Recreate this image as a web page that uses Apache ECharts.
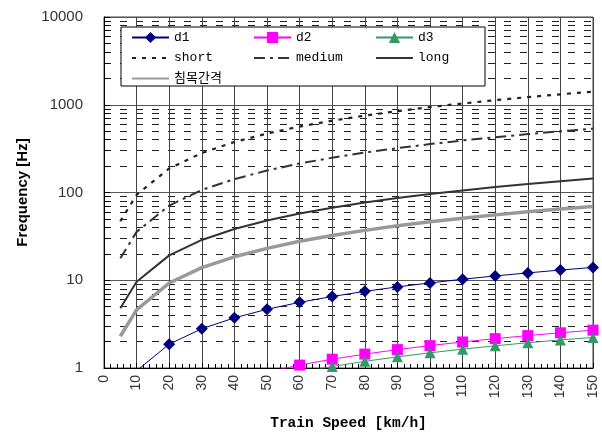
<!DOCTYPE html>
<html><head><meta charset="utf-8">
<script src="https://cdn.jsdelivr.net/npm/echarts@6/dist/echarts.min.js"></script>
<style>html,body{margin:0;padding:0;background:#fff}#c{width:602px;height:437px}</style>
</head><body><div id="c"></div>
<script>
// ---- data ----
const xTicks = [0,10,20,30,40,50,60,70,80,90,100,110,120,130,140,150];
const yTicks = [1,10,100,1000,10000];
const speedD1 = [10,20,30,40,50,60,70,80,90,100,110,120,130,140,150];
const d1 = [0.93,1.87,2.80,3.73,4.67,5.60,6.53,7.47,8.40,9.33,10.27,11.2,12.13,13.07,14.0];
const speedD2 = [50,60,70,80,90,100,110,120,130,140,150];
const d2 = [0.90,1.08,1.26,1.44,1.62,1.80,1.98,2.16,2.34,2.52,2.70];
const speedD3 = [60,70,80,90,100,110,120,130,140,150];
const d3 = [0.89,1.04,1.19,1.34,1.49,1.64,1.79,1.94,2.09,2.23];
const speedCurve = [5,10,20,30,40,50,60,70,80,90,100,110,120,130,140,150];
const shortW = [47,94,188,282,376,470,564,658,752,846,940,1034,1128,1222,1316,1410];
const mediumW = [17.8,35.6,71,107,142,178,214,249,285,320,356,392,427,463,498,534];
const longW = [4.8,9.6,19.2,28.8,38.4,48,57.6,67.2,76.8,86.4,96,105.6,115.2,124.8,134.4,144];
const sleeper = [2.3,4.6,9.3,13.9,18.5,23.1,27.8,32.4,37,41.7,46.3,50.9,55.6,60.2,64.8,69.4];

const zip = (xs, ys) => xs.map((x, i) => [x, ys[i]]);
const MONO = '"Liberation Mono","DejaVu Sans Mono","Noto Sans CJK KR",monospace';
const lineOnly = name => ({name:name, itemStyle:{opacity:0}});

const chart = echarts.init(document.getElementById('c'));
const legendBase = {orient:'vertical', top:31, padding:0, itemGap:7.5, itemWidth:37, itemHeight:14,
  textStyle:{fontFamily:MONO, fontSize:13, color:'#000'}, z:10, selectedMode:false};

chart.setOption({
  animation:false,
  grid:{left:104, right:9, top:17, bottom:69, show:true, borderColor:'#444', borderWidth:1},
  graphic:[{type:'rect', z:8, shape:{x:121, y:27, width:364, height:59},
    style:{fill:'#fff', stroke:'#000', lineWidth:1}}],
  legend:[
    Object.assign({left:131, data:['d1', lineOnly('short'), lineOnly('침목간격')]}, legendBase),
    Object.assign({left:253, data:['d2', lineOnly('medium')]}, legendBase),
    Object.assign({left:375, data:['d3', lineOnly('long')]}, legendBase)
  ],
  xAxis:{type:'value', min:0, max:150, interval:10,
    name:'Train Speed [km/h]', nameLocation:'middle', nameGap:48,
    nameTextStyle:{fontFamily:MONO, fontWeight:'bold', fontSize:14.5, color:'#000'},
    axisLine:{lineStyle:{color:'#000'}},
    axisTick:{inside:true, length:5, lineStyle:{color:'#000'}},
    minorTick:{show:true, splitNumber:5, length:4, lineStyle:{color:'#000'}},
    axisLabel:{rotate:90, margin:7, fontSize:14, fontFamily:'"Liberation Sans",Arial,sans-serif', color:'#333',
      formatter: v => xTicks.includes(v) ? String(v) : ''},
    splitLine:{show:true, lineStyle:{color:'#444', width:1}}
  },
  yAxis:{type:'log', logBase:10, min:1, max:10000,
    name:'Frequency [Hz]', nameLocation:'middle', nameGap:74,
    nameTextStyle:{fontFamily:'"Liberation Sans",Arial,sans-serif', fontWeight:'bold', fontSize:15, color:'#000'},
    axisLine:{show:true, lineStyle:{color:'#000'}},
    axisTick:{inside:true, length:6, lineStyle:{color:'#000'}},
    minorTick:{show:true, splitNumber:9, length:5, lineStyle:{color:'#000'}},
    minorSplitLine:{show:true, lineStyle:{color:'#222', width:1, type:[7,9]}},
    axisLabel:{margin:21, fontSize:15, fontFamily:'"Liberation Sans",Arial,sans-serif', color:'#333',
      formatter: v => yTicks.includes(v) ? String(v) : ''},
    splitLine:{show:true, lineStyle:{color:'#555', width:1}}
  },
  series:[
    {name:'d1', type:'line', data:zip(speedD1,d1), symbol:'diamond', symbolSize:12, clip:true,
      itemStyle:{color:'#000080'}, lineStyle:{color:'#000080', width:1}, z:6},
    {name:'d2', type:'line', data:zip(speedD2,d2), symbol:'rect', symbolSize:11, clip:true,
      itemStyle:{color:'#ff00ff'}, lineStyle:{color:'#ff00ff', width:1}, z:6},
    {name:'d3', type:'line', data:zip(speedD3,d3), symbol:'triangle', symbolSize:11, clip:true,
      itemStyle:{color:'#339966'}, lineStyle:{color:'#339966', width:1}, z:6},
    {name:'short', type:'line', data:zip(speedCurve,shortW), symbol:'none', clip:true,
      itemStyle:{color:'#222'}, lineStyle:{color:'#222', width:2.2, type:[4,6]}, z:5},
    {name:'medium', type:'line', data:zip(speedCurve,mediumW), symbol:'none', clip:true,
      itemStyle:{color:'#333'}, lineStyle:{color:'#333', width:2, type:[11,5,3,5]}, z:5},
    {name:'long', type:'line', data:zip(speedCurve,longW), symbol:'none', clip:true,
      itemStyle:{color:'#333'}, lineStyle:{color:'#333', width:2}, z:5},
    {name:'침목간격', type:'line', data:zip(speedCurve,sleeper), symbol:'none', clip:true,
      itemStyle:{color:'#999'}, lineStyle:{color:'#999', width:3.5}, z:5}
  ]
});
</script></body></html>
